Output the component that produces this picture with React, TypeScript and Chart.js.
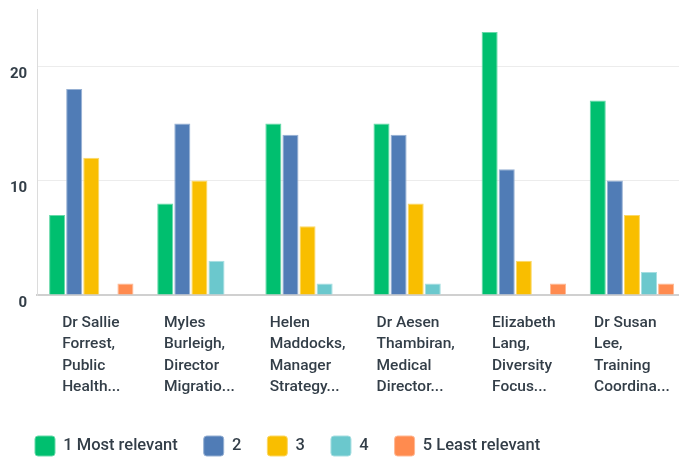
import { useEffect, useRef } from "react";
import { Chart, registerables } from "chart.js";

Chart.register(...registerables);

// Speakers, each label split into its display lines
const categories: string[][] = [
  ["Dr Sallie", "Forrest,", "Public", "Health..."],
  ["Myles", "Burleigh,", "Director", "Migratio..."],
  ["Helen", "Maddocks,", "Manager", "Strategy..."],
  ["Dr Aesen", "Thambiran,", "Medical", "Director..."],
  ["Elizabeth", "Lang,", "Diversity", "Focus..."],
  ["Dr Susan", "Lee,", "Training", "Coordina..."],
];

const seriesNames = ["1 Most relevant", "2", "3", "4", "5 Least relevant"];

// Number of respondents per relevance rank
const rank1 = [7, 8, 15, 15, 23, 17];
const rank2 = [18, 15, 14, 14, 11, 10];
const rank3 = [12, 10, 6, 8, 3, 7];
const rank4 = [0, 3, 1, 1, 0, 2];
const rank5 = [1, 0, 0, 0, 1, 1];

const yTicks = [0, 10, 20];
const yMax = 25;

const palette = ["#00bf6f", "#507cb6", "#f9be00", "#6bc8cd", "#ff8b4f"];
const edgePalette = ["#66d9a9", "#96b0d3", "#fbd866", "#a6dee1", "#ffb995"];

const TEXT = "#333e48";
const FONT = "Roboto, 'Liberation Sans', sans-serif";

// Category labels: block centred under each group, lines left-aligned inside it
const categoryLabelPlugin = {
  id: "categoryLabels",
  afterLayout(chart: any) {
    // legend row starts a little in from the left edge
    if (chart.legend) chart.legend.left += 9;
  },
  afterDraw(chart: any) {
    const scale = chart.scales.x;
    const ctx = chart.ctx as CanvasRenderingContext2D;
    ctx.save();
    ctx.font = `500 15.5px ${FONT}`;
    ctx.fillStyle = TEXT;
    ctx.textAlign = "left";
    ctx.textBaseline = "middle";
    categories.forEach((lines, i) => {
      const cx = scale.getPixelForValue(i);
      const w = Math.max(...lines.map((l) => ctx.measureText(l).width));
      const x0 = cx - w / 2;
      lines.forEach((line, j) => {
        ctx.fillText(line, x0, scale.top + 28 + j * 21.5);
      });
    });
    ctx.restore();
  },
};

export default function App() {
  const ref = useRef<HTMLCanvasElement | null>(null);

  useEffect(() => {
    if (!ref.current) return;
    const series = [rank1, rank2, rank3, rank4, rank5];
    const chart = new Chart(ref.current, {
      type: "bar",
      data: {
        labels: categories,
        datasets: series.map((values, k) => ({
          label: seriesNames[k],
          data: values,
          backgroundColor: palette[k],
          borderColor: edgePalette[k],
          borderWidth: 1,
          categoryPercentage: 0.79,
          barPercentage: 0.94,
        })),
      },
      plugins: [categoryLabelPlugin],
      options: {
        responsive: false,
        animation: false,
        layout: { padding: { left: 0, right: 0, top: 0, bottom: 0 } },
        plugins: {
          tooltip: { enabled: false },
          legend: {
            position: "bottom",
            align: "start",
            labels: {
              boxWidth: 20,
              boxHeight: 20,
              padding: 26,
              useBorderRadius: true,
              borderRadius: 3,
              color: TEXT,
              font: { family: FONT, size: 16.5, weight: "500" },
            },
          },
        },
        scales: {
          x: {
            grid: { display: false, drawTicks: false },
            border: { color: "#d0d0d0", width: 2 },
            ticks: {
              color: "transparent",
              maxRotation: 0,
              autoSkip: false,
              padding: 17.5,
              font: { family: FONT, size: 15, lineHeight: "20px" },
            },
          },
          y: {
            min: 0,
            max: yMax,
            afterBuildTicks: (scale: any) => {
              scale.ticks = yTicks.map((v) => ({ value: v }));
            },
            grid: { color: "#ececec", drawTicks: false },
            border: { color: "#dcdcdc", width: 1 },
            ticks: {
              color: TEXT,
              padding: 10,
              labelOffset: 8,
              font: { family: FONT, size: 15, weight: "bold" },
            },
          },
        },
      },
    });
    return () => chart.destroy();
  }, []);

  return (
    <div
      style={{
        position: "fixed",
        left: 0,
        top: 0,
        width: 679,
        height: 458,
        overflow: "hidden",
        background: "#fff",
      }}
    >
      <canvas
        ref={ref}
        width={686}
        height={476}
        style={{ display: "block", marginTop: -10 }}
      />
    </div>
  );
}
